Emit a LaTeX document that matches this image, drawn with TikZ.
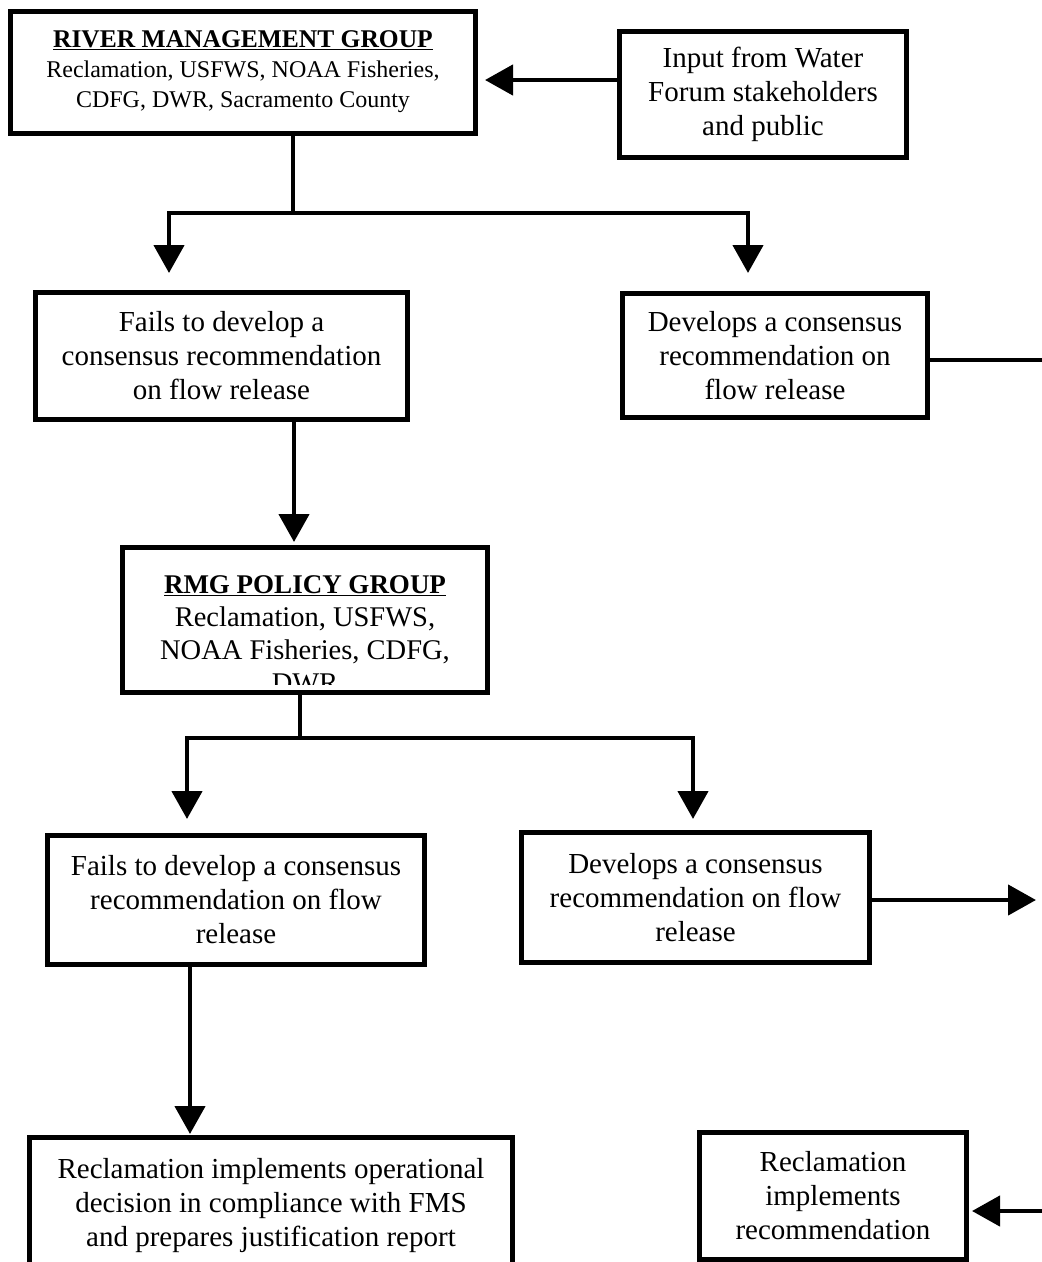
\documentclass[tikz,border=0pt]{standalone}
\usepackage{fontspec}
\setmainfont{Liberation Serif}
\usetikzlibrary{arrows.meta}
\begin{document}
\begin{tikzpicture}[x=1pt,y=-1pt,
  box/.style={draw, line width=5pt, outer sep=2.5pt, inner sep=0pt, align=center,
    font=\fontsize{29}{34}\selectfont},
  ln/.style={line width=4.5pt, line cap=butt},
  arr/.style={line width=4.5pt, line cap=butt, -{Triangle[length=28pt,width=30pt]}}]
\useasboundingbox (0,0) rectangle (1042,1262);
\clip (0,0) rectangle (1042,1262);
% boxes
\node[box, minimum width=465pt, minimum height=122pt, font=\fontsize{24}{30}\selectfont] (rmg) at (243,72)
  {{\fontsize{25.5}{30}\selectfont\underline{\textbf{RIVER MANAGEMENT GROUP}}}\\Reclamation, USFWS, NOAA Fisheries,\\CDFG, DWR, Sacramento County};
\node[box, minimum width=287pt, minimum height=126pt] (inp) at (763,94.5)
  {Input from Water\\Forum stakeholders\\and public};
\node[box, minimum width=372pt, minimum height=127pt] (f1) at (221.5,356)
  {Fails to develop a\\consensus recommendation\\on flow release};
\node[box, minimum width=305pt, minimum height=124pt] (d1) at (775,355.5)
  {Develops a consensus\\recommendation on\\flow release};
\node[box, minimum width=365pt, minimum height=145pt] (pg) at (305,620) {};
\begin{scope}
  \clip (120,540) rectangle (490,684);
  \node[inner sep=0pt, anchor=north, align=center, font=\fontsize{28.5}{33}\selectfont] (pgt) at (305,575)
    {{\fontsize{27}{33}\selectfont\underline{\textbf{RMG POLICY GROUP}}}\\Reclamation, USFWS,\\NOAA Fisheries, CDFG,\\DWR};
\end{scope}
\node[box, minimum width=377pt, minimum height=129pt] (f2) at (236,900)
  {Fails to develop a consensus\\recommendation on flow\\release};
\node[box, minimum width=348pt, minimum height=130pt] (d2) at (695.5,897.5)
  {Develops a consensus\\recommendation on flow\\release};
\node[box, minimum width=483pt, minimum height=137pt] (fin) at (271,1206)
  {Reclamation implements operational\\decision in compliance with FMS\\and prepares justification report};
\node[box, minimum width=267pt, minimum height=127pt] (rec) at (833,1196)
  {Reclamation\\implements\\recommendation};
% helper coordinates
\coordinate (j1) at (293,213);
\coordinate (xa) at (169,0);
\coordinate (xb) at (748,0);
\coordinate (xc) at (294,0);
\coordinate (j2) at (300,738);
\coordinate (xd) at (187,0);
\coordinate (xe) at (693,0);
\coordinate (xf) at (190,0);
\coordinate (o1) at (1042,360);
\coordinate (o2) at (1036,900);
\coordinate (i9) at (1042,1211);
\coordinate (y80) at (0,80);
% connectors
\draw[arr, shorten >=7pt] (inp.west |- y80) -- (rmg.east |- y80);
\draw[ln] (rmg.south -| j1) -- (j1);
\draw[arr, shorten >=17pt] (j1) -| (f1.north -| xa);
\draw[arr, shorten >=18pt] (j1) -| (d1.north -| xb);
\draw[ln] (d1.east |- o1) -- (o1);
\draw[arr, shorten >=3pt] (f1.south -| xc) -- (pg.north -| xc);
\draw[ln] (pg.south -| j2) -- (j2);
\draw[arr, shorten >=14pt] (j2) -| (f2.north -| xd);
\draw[arr, shorten >=11pt] (j2) -| (d2.north -| xe);
\draw[arr] (d2.east |- o2) -- (o2);
\draw[arr, shorten >=1pt] (f2.south -| xf) -- (fin.north -| xf);
\draw[arr, shorten >=3pt] (i9) -- (rec.east |- i9);
\end{tikzpicture}
\end{document}
